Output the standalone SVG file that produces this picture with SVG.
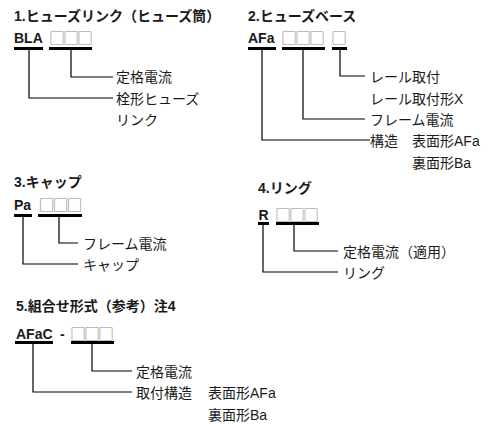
<svg xmlns="http://www.w3.org/2000/svg" width="490" height="424" viewBox="0 0 490 424">
<style>
text{font-family:"Liberation Sans","Noto Sans CJK JP",sans-serif;font-size:14px;fill:#1a1a1a}
.t{font-weight:bold}
.c{font-weight:bold}
.b{fill:#8a8a8a;font-family:"Noto Sans CJK JP",sans-serif;font-size:16px;letter-spacing:-2px}
.bar{fill:#000}
.ln{fill:none;stroke:#000;stroke-width:1.2}
</style>
<rect width="490" height="424" fill="#fff"/>
<g id="sec1">
<text class="t" x="14" y="21">1.ヒューズリンク（ヒューズ筒）</text>
<g id="n1-code"><text class="c" x="14" y="43">BLA</text><rect class="bar" x="14" y="47" width="29" height="3"/></g>
<g id="n1-box"><text class="b" x="49" y="43.8">□□□</text><rect class="bar" x="49" y="47" width="43" height="3"/></g>
<g id="n1-rate"><text x="116" y="82">定格電流</text></g>
<g id="n1-type"><text x="116" y="104">栓形ヒューズ</text><text x="116" y="125">リンク</text></g>
</g>
<g id="sec2">
<text class="t" x="248" y="21">2.ヒューズベース</text>
<g id="n2-code"><text class="c" x="248" y="43">AFa</text><rect class="bar" x="248" y="47" width="28" height="3"/></g>
<g id="n2-box"><text class="b" x="281" y="43.8">□□□</text><rect class="bar" x="282" y="47" width="43" height="3"/></g>
<g id="n2-box2"><text class="b" x="331" y="43.8">□</text><rect class="bar" x="332" y="47" width="15" height="3"/></g>
<g id="n2-rail"><text x="370" y="82">レール取付</text><text x="370" y="104">レール取付形X</text></g>
<g id="n2-frame"><text x="370" y="125">フレーム電流</text></g>
<g id="n2-struct"><text x="370" y="146">構造</text><text x="412" y="146">表面形AFa</text><text x="412" y="168">裏面形Ba</text></g>
</g>
<g id="sec3">
<text class="t" x="14" y="187">3.キャップ</text>
<g id="n3-code"><text class="c" x="14" y="210">Pa</text><rect class="bar" x="14" y="214" width="18" height="3"/></g>
<g id="n3-box"><text class="b" x="38.5" y="210.8">□□□</text><rect class="bar" x="38" y="214" width="44" height="3"/></g>
<g id="n3-frame"><text x="83" y="249">フレーム電流</text></g>
<g id="n3-cap"><text x="83" y="270">キャップ</text></g>
</g>
<g id="sec4">
<text class="t" x="258" y="193">4.リング</text>
<g id="n4-code"><text class="c" x="258.5" y="220">R</text><rect class="bar" x="258" y="222" width="11" height="3"/></g>
<g id="n4-box"><text class="b" x="275" y="220.8">□□□</text><rect class="bar" x="276" y="222" width="43" height="3"/></g>
<g id="n4-rate"><text x="343" y="257">定格電流（適用）</text></g>
<g id="n4-ring"><text x="343" y="278">リング</text></g>
</g>
<g id="sec5">
<text class="t" x="16" y="311">5.組合せ形式（参考）注4</text>
<g id="n5-code"><text class="c" x="16" y="339">AFaC</text><text class="c" x="60" y="339">-</text><rect class="bar" x="15" y="341" width="38" height="3"/></g>
<g id="n5-box"><text class="b" x="70" y="339.8">□□□</text><rect class="bar" x="71" y="341" width="43" height="3"/></g>
<g id="n5-rate"><text x="136" y="377">定格電流</text></g>
<g id="n5-struct"><text x="136" y="398">取付構造</text><text x="208" y="398">表面形AFa</text><text x="208" y="420">裏面形Ba</text></g>
</g>
<g id="connectors">
<path class="ln" d="M71,50V77H113M29,50V98H113"/>
<path class="ln" d="M340,50V76H365M303,50V119H365M262,50V140H370"/>
<path class="ln" d="M59,217V243H78M23,217V264H78"/>
<path class="ln" d="M294,225V251H338M263,225V272H338"/>
<path class="ln" d="M92,344V371H132M33,344V392H132"/>
</g>
</svg>
